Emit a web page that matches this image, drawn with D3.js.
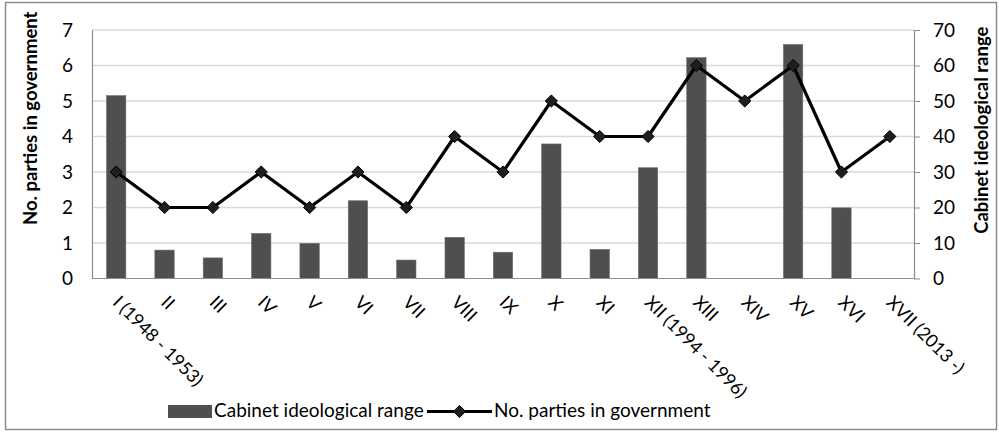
<!DOCTYPE html>
<html>
<head>
<meta charset="utf-8">
<script src="https://cdn.jsdelivr.net/npm/d3@7"></script>
<style>
  html, body { margin: 0; padding: 0; background: #fff; }
  svg text { font-family: Lato, "Open Sans", sans-serif; fill: #000; }
</style>
</head>
<body>
<svg id="chart" width="999" height="432"></svg>
<script>
// Cabinets, from I (1948 - 1953) to XVII (2013 -)
const cabinets = ["I (1948 - 1953)", "II", "III", "IV", "V", "VI", "VII", "VIII", "IX", "X",
  "XI", "XII (1994 - 1996)", "XIII", "XIV", "XV", "XVI", "XVII (2013 -)"];
// Ideological range of each cabinet (right axis); null where no bar is drawn
const ideologicalRange = [51.5, 8.0, 5.8, 12.7, 9.9, 21.9, 5.2, 11.6, 7.4, 37.9,
  8.2, 31.2, 62.2, null, 65.9, 19.9, null];
// Number of parties in each government (left axis)
const partyCount = [3, 2, 2, 3, 2, 3, 2, 4, 3, 5, 4, 4, 6, 5, 6, 3, 4];
const leftTicks = [0, 1, 2, 3, 4, 5, 6, 7];
const rightTicks = [0, 10, 20, 30, 40, 50, 60, 70];

const svg = d3.select("#chart");
const plotLeft = 92, plotRight = 914, plotTop = 30, plotBottom = 278.5;

// outer frame
svg.append("rect").attr("x", 5.5).attr("y", 2.5).attr("width", 991).attr("height", 427)
  .attr("fill", "none").attr("stroke", "#8c8c8c").attr("stroke-width", 1.5);

const x = d3.scaleBand().domain(cabinets).range([plotLeft, plotRight]).paddingInner(0.6).paddingOuter(0.3);
const xc = d => x(d) + x.bandwidth() / 2;
const yL = d3.scaleLinear().domain([0, 7]).range([plotBottom, plotTop]);
const yR = d3.scaleLinear().domain([0, 70]).range([plotBottom, plotTop]);

// horizontal gridlines
svg.append("g").selectAll("line").data(leftTicks.slice(1)).join("line")
  .attr("x1", plotLeft).attr("x2", plotRight)
  .attr("y1", d => yL(d)).attr("y2", d => yL(d))
  .attr("stroke", "#d9d9d9").attr("stroke-width", 1.5);

// left axis
const axL = svg.append("g").attr("transform", `translate(${plotLeft},0)`)
  .call(d3.axisLeft(yL).tickValues(leftTicks).tickSize(0).tickPadding(19).tickFormat(d3.format("d")));
axL.select(".domain").attr("stroke", "#8c8c8c").attr("stroke-width", 1.2);
axL.selectAll("text").style("font-size", "19px").style("font-family", "Lato, sans-serif").attr("fill", "#000");

// right axis
const axR = svg.append("g").attr("transform", `translate(${plotRight},0)`)
  .call(d3.axisRight(yR).tickValues(rightTicks).tickSizeInner(6).tickSizeOuter(0).tickPadding(13));
axR.select(".domain").attr("stroke", "#8c8c8c").attr("stroke-width", 1.2);
axR.selectAll("line").attr("stroke", "#8c8c8c");
axR.selectAll("text").style("font-size", "19px").style("font-family", "Lato, sans-serif").attr("fill", "#000");

// bars: cabinet ideological range
svg.append("g").selectAll("rect")
  .data(cabinets.map((c, i) => ({ c, v: ideologicalRange[i] })).filter(d => d.v != null))
  .join("rect")
  .attr("x", d => x(d.c)).attr("width", x.bandwidth())
  .attr("y", d => yR(d.v)).attr("height", d => yR(0) - yR(d.v))
  .attr("fill", "#4f4f4f").attr("stroke", "#6a6a6a").attr("stroke-width", 0.6);

// bottom axis line
svg.append("line").attr("x1", plotLeft).attr("x2", plotRight).attr("y1", plotBottom).attr("y2", plotBottom)
  .attr("stroke", "#8c8c8c").attr("stroke-width", 1.2);

// line: number of parties
const pts = cabinets.map((c, i) => ({ c, v: partyCount[i] }));
svg.append("path").datum(pts)
  .attr("d", d3.line().x(d => xc(d.c)).y(d => yL(d.v)))
  .attr("fill", "none").attr("stroke", "#000").attr("stroke-width", 3.2).attr("stroke-linejoin", "round");
const diamond = d3.symbol().type(d3.symbolDiamond2).size(95);
svg.append("g").selectAll("path").data(pts).join("path")
  .attr("transform", d => `translate(${xc(d.c)},${yL(d.v)})`)
  .attr("d", diamond)
  .attr("fill", "#1e1e1e").attr("stroke", "#000").attr("stroke-width", 1);

// category labels, slanted
svg.append("g").selectAll("text").data(cabinets).join("text")
  .attr("transform", d => `translate(${xc(d)},${299}) rotate(45)`)
  .attr("text-anchor", "start").attr("dy", "0.35em")
  .style("font-size", "18px").text(d => d);

// axis titles
svg.append("text").attr("transform", `translate(37,${(plotTop + plotBottom) / 2 - 36}) rotate(-90)`)
  .attr("text-anchor", "middle").style("font-size", "18.5px").style("font-weight", "bold")
  .text("No. parties in government");
svg.append("text").attr("transform", `translate(988,${(plotTop + plotBottom) / 2 - 24}) rotate(-90)`)
  .attr("text-anchor", "middle").style("font-size", "18.5px").style("font-weight", "bold")
  .text("Cabinet ideological range");

// legend
const lg = svg.append("g");
lg.append("rect").attr("x", 168).attr("y", 405).attr("width", 44).attr("height", 13).attr("fill", "#4f4f4f");
lg.append("text").attr("x", 214).attr("y", 417).style("font-size", "19px").text("Cabinet ideological range");
lg.append("line").attr("x1", 427).attr("x2", 492).attr("y1", 411.5).attr("y2", 411.5)
  .attr("stroke", "#000").attr("stroke-width", 3.2);
lg.append("path").attr("transform", "translate(459.5,411.5)").attr("d", diamond)
  .attr("fill", "#1e1e1e").attr("stroke", "#000");
lg.append("text").attr("x", 494).attr("y", 417).style("font-size", "19px").text("No. parties in government");
</script>
</body>
</html>
